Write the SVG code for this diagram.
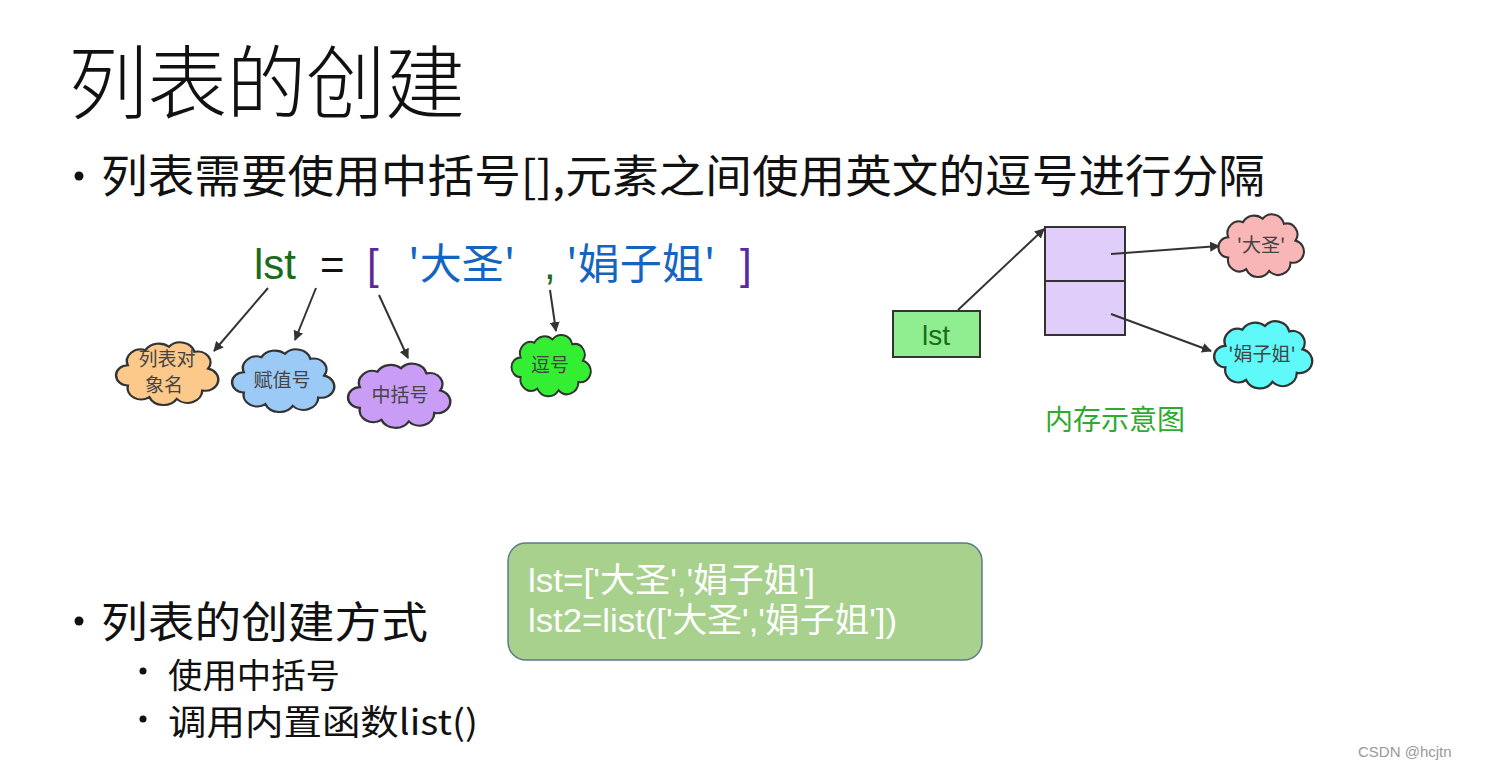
<svg xmlns="http://www.w3.org/2000/svg" xmlns:xlink="http://www.w3.org/1999/xlink" width="1485" height="772" viewBox="0 0 1485 772">
<style>
.cjk{font-family:"Noto Sans CJK SC","Liberation Sans",sans-serif;}
.lat{font-family:"Liberation Sans","Noto Sans CJK SC",sans-serif;}
.cloud{stroke:#333;stroke-width:2.5;}
.conn{stroke:#333;stroke-width:2;fill:none;marker-end:url(#ah);}
.clabel{font-size:19px;fill:#444;text-anchor:middle;}
</style>
<defs>
<marker id="ah" viewBox="0 0 10 10" refX="9" refY="5" markerWidth="10" markerHeight="10" markerUnits="userSpaceOnUse" orient="auto">
<path d="M0,0 L10,5 L0,10 Z" fill="#333"/>
</marker>
<path id="cl" d="M -40,-8 A 14 14 0 0 1 -22,-26 A 16 16 0 0 1 2,-30 A 15 15 0 0 1 28,-24 A 13 13 0 0 1 42,-4 A 13 13 0 0 1 36,22 A 15 15 0 0 1 10,32 A 16 16 0 0 1 -18,30 A 14 14 0 0 1 -40,16 A 12 12 0 0 1 -40,-8 Z"/>
</defs>
<rect width="1485" height="772" fill="#fff"/>

<g id="title"><text class="cjk" x="68" y="112" font-size="80" font-weight="300" fill="#111" textLength="397" lengthAdjust="spacing">列表的创建</text></g>
<g id="bullet1">
<circle cx="79" cy="176" r="4.5" fill="#111"/>
<text class="cjk" x="101" y="193" font-size="45" fill="#111" textLength="1164" lengthAdjust="spacingAndGlyphs">列表需要使用中括号[],元素之间使用英文的逗号进行分隔</text>
</g>

<g id="code-line">
<text class="lat" y="279" font-size="42"><tspan x="254" fill="#1a6b1a">lst</tspan><tspan x="320" fill="#111">=</tspan><tspan x="367" fill="#5a2a9a">[</tspan><tspan x="408" fill="#1565c0" class="cjk">'大圣'</tspan><tspan x="544" fill="#1a6b1a">,</tspan><tspan x="566" fill="#1565c0" class="cjk">'娟子姐'</tspan><tspan x="740" fill="#5a2a9a">]</tspan></text>
</g>

<g id="cloud-name"><use xlink:href="#cl" class="cloud" fill="#fcc98b" transform="translate(167,372) scale(0.98,0.84)"/><text class="cjk clabel" x="167" y="366">列表对</text><text class="cjk clabel" x="164" y="392">象名</text></g>
<g id="cloud-assign"><use xlink:href="#cl" class="cloud" fill="#9ccaf7" transform="translate(283,379) scale(0.98,0.84)"/><text class="cjk clabel" x="282" y="387">赋值号</text></g>
<g id="cloud-bracket"><use xlink:href="#cl" class="cloud" fill="#c99cf5" transform="translate(399,394) scale(0.98,0.86)"/><text class="cjk clabel" x="400" y="402">中括号</text></g>
<g id="cloud-comma"><use xlink:href="#cl" class="cloud" fill="#33ee33" transform="translate(551,364) scale(0.76,0.82)"/><text class="cjk clabel" x="550" y="372">逗号</text></g>

<g id="lst-box"><rect x="893" y="311" width="87" height="46" fill="#90ee90" stroke="#333" stroke-width="2"/><text class="lat" x="936" y="345" font-size="28" fill="#1a6b1a" text-anchor="middle">lst</text></g>
<g id="mem-box"><rect x="1045" y="227" width="80" height="54" fill="#e1cdf9" stroke="#333" stroke-width="2"/><rect x="1045" y="281" width="80" height="54" fill="#e1cdf9" stroke="#333" stroke-width="2"/></g>
<g id="cloud-dasheng"><use xlink:href="#cl" class="cloud" fill="#f8b6b6" transform="translate(1261,244) scale(0.82,0.84)"/><text class="cjk clabel" x="1261" y="252">'大圣'</text></g>
<g id="cloud-juanzijie"><use xlink:href="#cl" class="cloud" fill="#5ff9f9" transform="translate(1263,353) scale(0.94,0.9)"/><text class="cjk clabel" x="1262" y="361">'娟子姐'</text></g>
<g id="mem-label"><text class="cjk" x="1045" y="430" font-size="28" fill="#2eaa2e">内存示意图</text></g>

<g id="connectors">
<line class="conn" x1="268" y1="288" x2="214" y2="351"/>
<line class="conn" x1="316" y1="288" x2="295" y2="340"/>
<line class="conn" x1="379" y1="295" x2="408" y2="358"/>
<line class="conn" x1="550" y1="290" x2="556" y2="331"/>
<line class="conn" x1="958" y1="310" x2="1044" y2="229"/>
<line class="conn" x1="1111" y1="254" x2="1219" y2="246"/>
<line class="conn" x1="1111" y1="314" x2="1211" y2="351"/>
</g>

<g id="bullet2">
<circle cx="79" cy="621" r="4.5" fill="#111"/>
<text class="cjk" x="101" y="638" font-size="43" fill="#111" textLength="327" lengthAdjust="spacingAndGlyphs">列表的创建方式</text>
<circle cx="143" cy="671" r="3.5" fill="#111"/>
<text class="cjk" x="168" y="688" font-size="34" fill="#111" textLength="172" lengthAdjust="spacingAndGlyphs">使用中括号</text>
<circle cx="143" cy="719" r="3.5" fill="#111"/>
<text class="cjk" x="168" y="735" font-size="35" fill="#111" textLength="310" lengthAdjust="spacingAndGlyphs">调用内置函数list()</text>
</g>

<g id="code-box">
<rect x="508" y="543" width="474" height="117" rx="18" fill="#a9d18e" stroke="#5b7a8c" stroke-width="1.5"/>
<text class="lat" x="528" y="592" font-size="34" fill="#fff" textLength="287" lengthAdjust="spacingAndGlyphs">lst=['大圣','娟子姐']</text>
<text class="lat" x="528" y="632" font-size="34" fill="#fff" textLength="369" lengthAdjust="spacingAndGlyphs">lst2=list(['大圣','娟子姐'])</text>
</g>

<g id="watermark"><text class="lat" x="1358" y="757" font-size="15" fill="#999">CSDN @hcjtn</text></g>
</svg>
